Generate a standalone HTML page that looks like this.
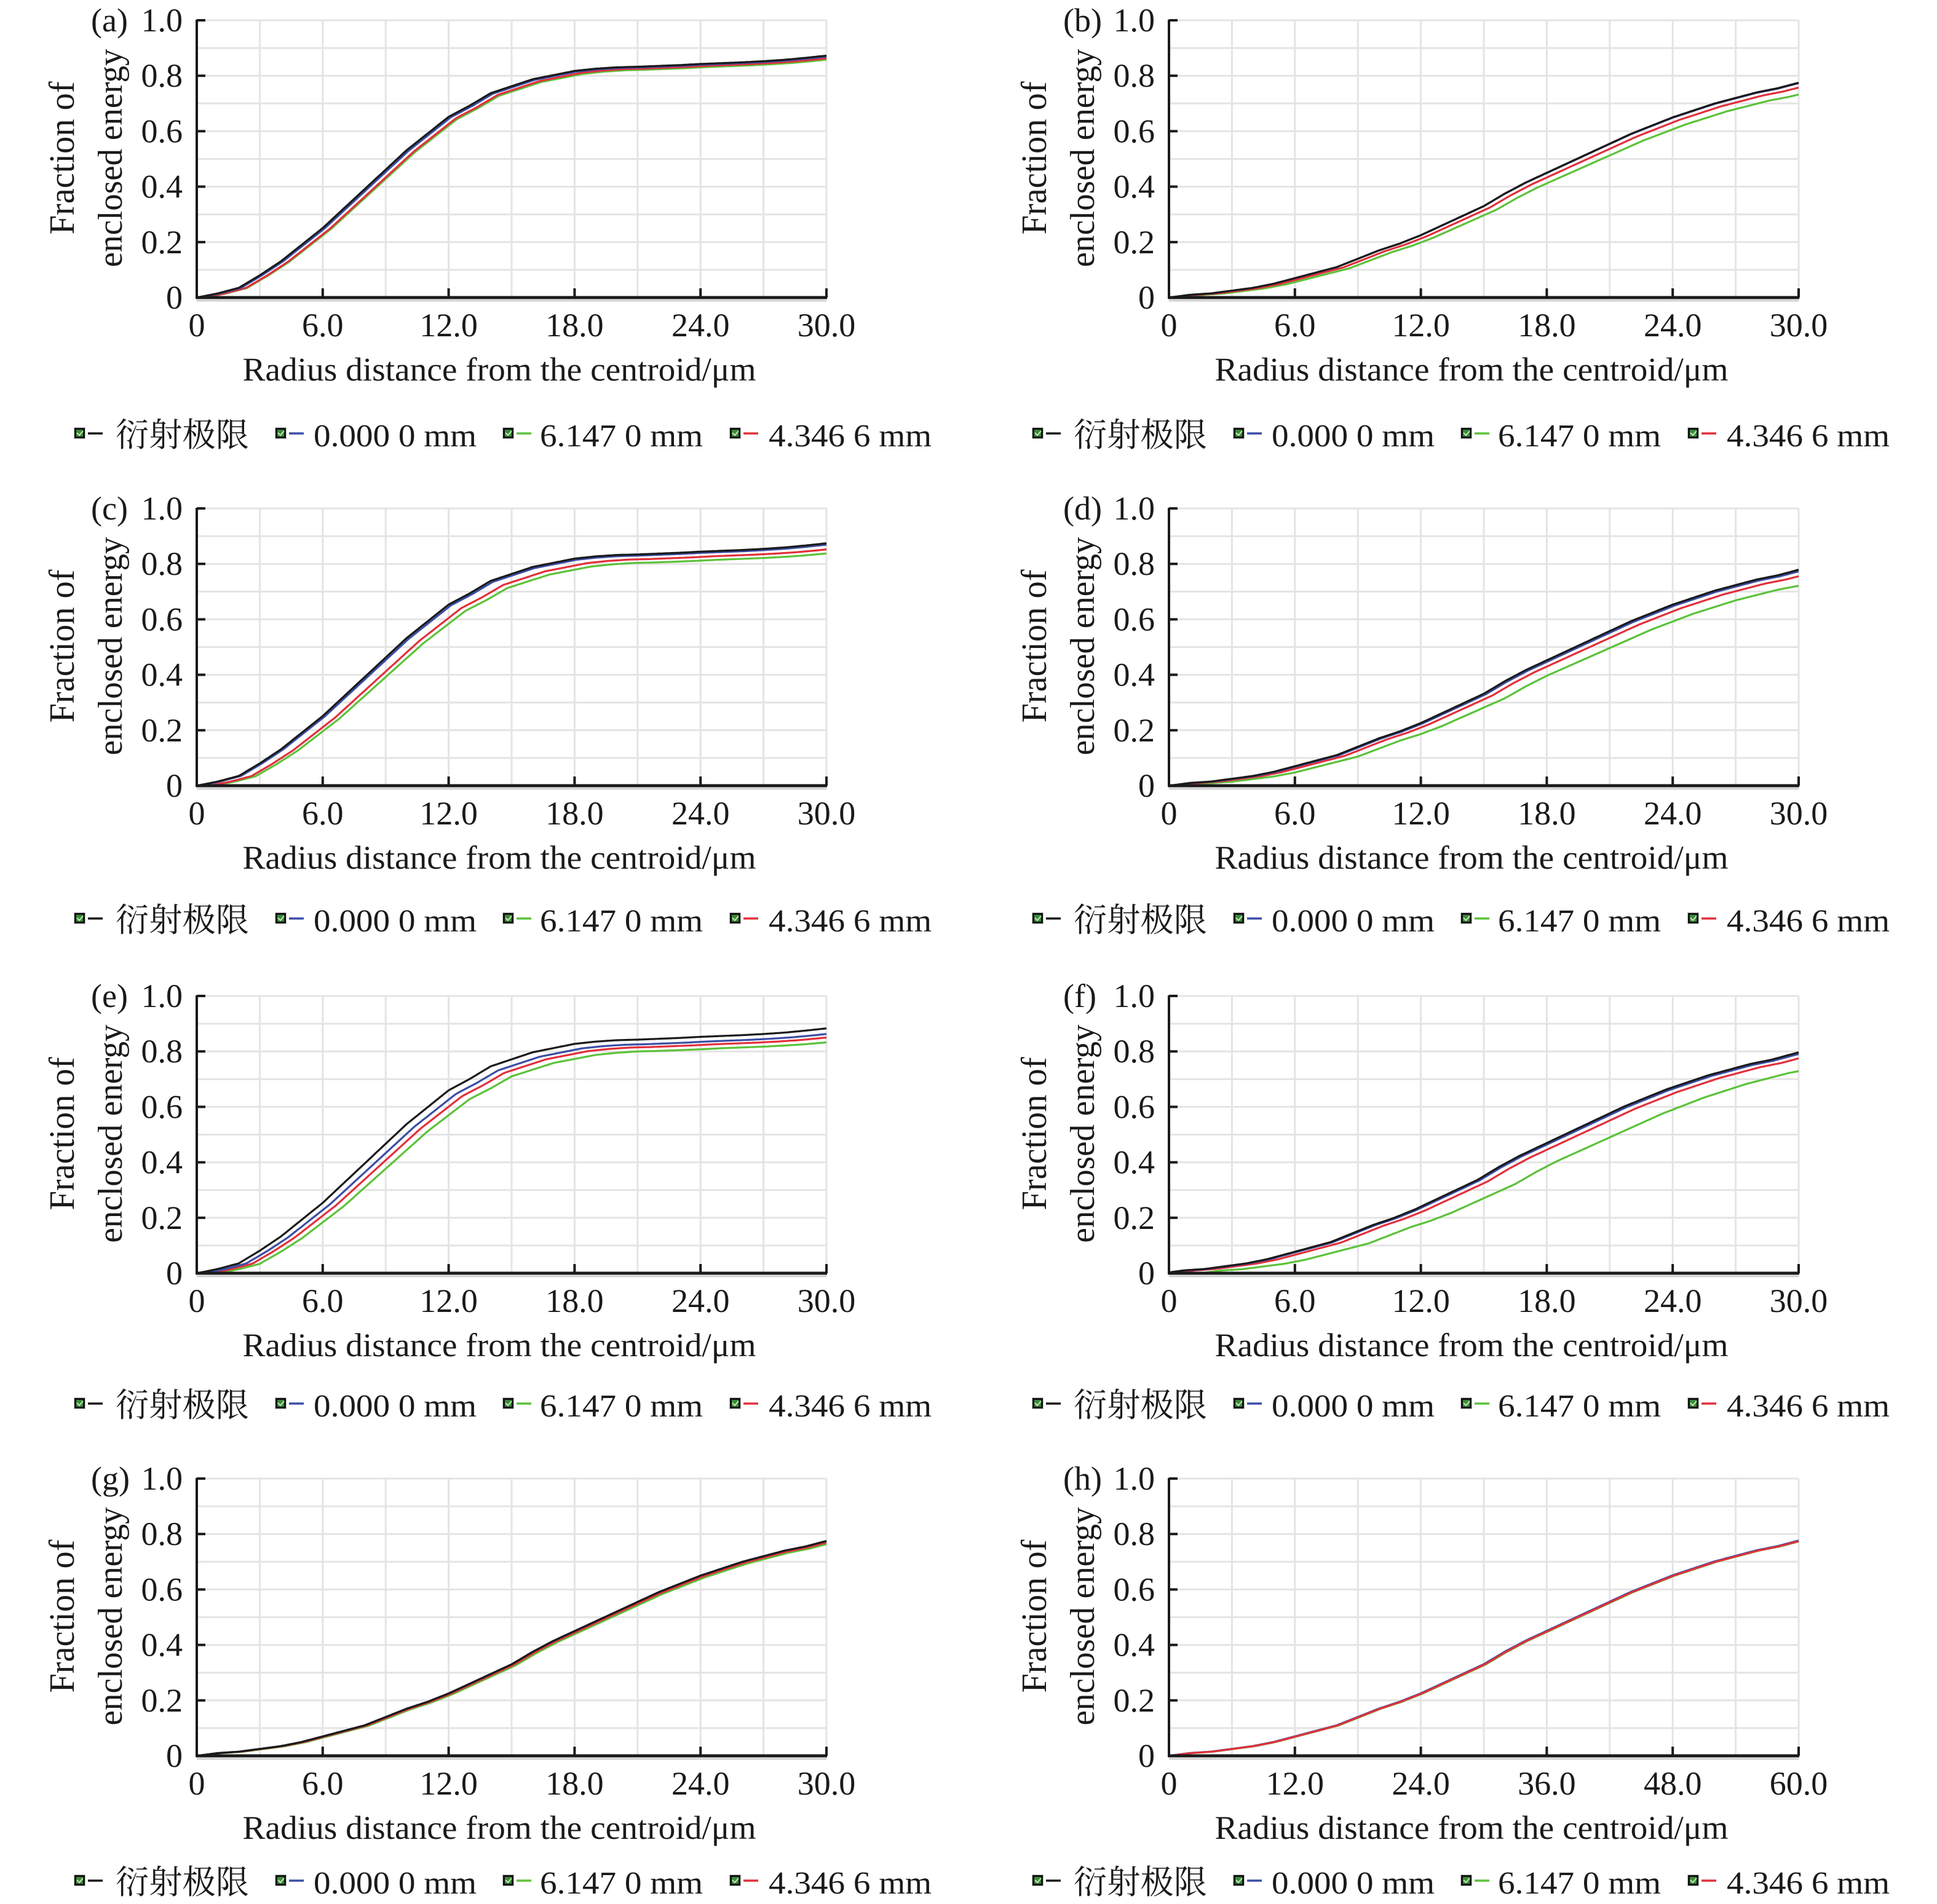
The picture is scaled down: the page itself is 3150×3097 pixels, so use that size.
<!DOCTYPE html>
<html><head><meta charset="utf-8">
<style>
html,body{margin:0;padding:0;background:#fff;}
svg{display:block;}
text{font-family:"Liberation Serif","Noto Serif CJK SC",serif;fill:#1a1a1a;}
</style></head>
<body>
<svg id="s" width="3150" height="3097" viewBox="0 0 3150 3097" xmlns="http://www.w3.org/2000/svg"></svg>
<script>
var NS="http://www.w3.org/2000/svg";
var svg=document.getElementById('s');
function el(t,a,txt){var e=document.createElementNS(NS,t);for(var k in a)e.setAttribute(k,a[k]);if(txt!==undefined)e.textContent=txt;svg.appendChild(e);return e;}
var FAST=[0,0.015,0.035,0.08,0.13,0.19,0.25,0.32,0.39,0.46,0.53,0.59,0.65,0.69,0.735,0.76,0.785,0.80,0.815,0.823,0.828,0.83,0.833,0.836,0.84,0.843,0.846,0.85,0.855,0.862,0.87];
var SLOW=[0,0.01,0.015,0.025,0.035,0.05,0.07,0.09,0.11,0.14,0.17,0.195,0.225,0.26,0.295,0.33,0.375,0.415,0.45,0.485,0.52,0.555,0.59,0.62,0.65,0.675,0.70,0.72,0.74,0.755,0.775];
function interp(tb,x){if(x<=0)return 0;if(x>=30){return tb[30]+(x-30)*(tb[30]-tb[29]);}var i=Math.floor(x),f=x-i;return tb[i]*(1-f)+tb[i+1]*f;}
var COL={k:"#1a1a1a",b:"#3b4ea6",g:"#5cc23a",r:"#e2303c"};
var cols=[0,1581], rows=[33,827,1620,2405], H=451, W=1024;
var legBase=[726,1515,2304,3080];
var panels=[
 ["(a)",0,0,30,FAST,[["g",0.4,0.99],["r",0.35,0.995],["b",0.1,1],["k",0,1.003]]],
 ["(b)",1,0,30,SLOW,[["g",0.6,0.96],["r",0.3,0.985],["b",0,0.998],["k",0,1]]],
 ["(c)",0,1,30,FAST,[["g",0.8,0.97],["r",0.6,0.985],["b",0.1,1],["k",0,1.005]]],
 ["(d)",1,1,30,SLOW,[["g",1.0,0.955],["r",0.4,0.985],["b",0.1,1],["k",0,1.005]]],
 ["(e)",0,2,30,FAST,[["g",1.0,0.966],["r",0.65,0.983],["b",0.35,0.995],["k",0,1.015]]],
 ["(f)",1,2,30,SLOW,[["g",1.5,0.975],["r",0.2,1.005],["b",-0.2,1.015],["k",-0.3,1.02]]],
 ["(g)",0,3,30,SLOW,[["g",0.2,0.99],["r",0.1,0.995],["b",0,1],["k",0,1]]],
 ["(h)",1,3,60,SLOW,[["k",0,1],["b",0,1.002],["g",0.1,1],["r",0.05,1]]]
];
panels.forEach(function(p){
 var X0=320+cols[p[1]], Y0=rows[p[2]], Yb=Y0+H, xmax=p[3];
 for(var i=1;i<=10;i++){var x=X0+W*i/10;el('line',{x1:x,y1:Y0,x2:x,y2:Yb,stroke:"#e4e4e4","stroke-width":3});}
 for(var j=0;j<10;j++){var y=Y0+H*j/10;el('line',{x1:X0,y1:y,x2:X0+W,y2:y,stroke:"#e4e4e4","stroke-width":3});}
 p[5].forEach(function(c){
  var pts=[];
  for(var k=0;k<=300;k++){var xv=xmax*k/300;var bx=(xmax==60?xv/2:xv)-c[1];var v=interp(p[4],bx)*c[2];if(xv==0)v=0;
   pts.push((X0+W*k/300).toFixed(1)+","+(Yb-v*H).toFixed(1));}
  el('polyline',{points:pts.join(" "),fill:"none",stroke:COL[c[0]],"stroke-width":3.2,"stroke-linejoin":"round"});
 });
 el('line',{x1:X0,y1:Yb+5,x2:X0+W,y2:Yb+5,stroke:"#d0d0d0","stroke-width":3});
 el('line',{x1:X0,y1:Y0-1,x2:X0,y2:Yb+2,stroke:"#1a1a1a","stroke-width":4});
 el('line',{x1:X0-1,y1:Yb,x2:X0+W+1,y2:Yb,stroke:"#1a1a1a","stroke-width":5});
 for(var j=0;j<=5;j++){var y=Yb-H*j/5;el('line',{x1:X0,y1:y,x2:X0+14,y2:y,stroke:"#1a1a1a","stroke-width":4});
  el('text',{x:X0-23,y:y+18,"font-size":54,"text-anchor":"end"},j==0?"0":(j/5).toFixed(1));}
 for(var i=0;i<=5;i++){var x=X0+W*i/5;if(i>0)el('line',{x1:x,y1:Yb,x2:x,y2:Yb-15,stroke:"#1a1a1a","stroke-width":4});
  el('text',{x:x,y:Yb+63,"font-size":54,"text-anchor":"middle"},i==0?"0":(xmax*i/5).toFixed(1));}
 el('text',{x:X0-172,y:Y0+18,"font-size":54},p[0]);
 el('text',{x:X0+W/2-20,y:Yb+135,"font-size":54,"text-anchor":"middle",textLength:835,lengthAdjust:"spacingAndGlyphs"},"Radius distance from the centroid/\u03bcm");
 var cx1=X0-200, cy=Y0+224;
 el('text',{x:0,y:0,"font-size":58,"text-anchor":"middle",textLength:249,lengthAdjust:"spacingAndGlyphs",transform:"translate("+cx1+","+cy+") rotate(-90)"},"Fraction of");
 var cx2=X0-122;
 el('text',{x:0,y:0,"font-size":56,"text-anchor":"middle",textLength:355,lengthAdjust:"spacingAndGlyphs",transform:"translate("+cx2+","+cy+") rotate(-90)"},"enclosed energy");
 var off=p[1]?1558:0, bl=legBase[p[2]];
 var items=[[121,"k","\u884d\u5c04\u6781\u9650",188,217],[448,"b","0.000 0 mm",510,265],[818,"g","6.147 0 mm",878,265],[1187,"r","4.346 6 mm",1250,265]];
 items.forEach(function(it){
  var bx=it[0]+off, by=bl-30;
  el('rect',{x:bx-1,y:by-1,width:19,height:19,fill:"#c8c8c8"});
  el('rect',{x:bx+1.5,y:by+1.5,width:14,height:14,fill:"#3a8a3a",stroke:"#111","stroke-width":3});
  el('path',{d:"M"+(bx+4)+" "+(by+8)+" l4 4 l6 -7",fill:"none",stroke:"#bfe8b0","stroke-width":2});
  el('line',{x1:bx+22,y1:by+9,x2:bx+46,y2:by+9,stroke:COL[it[1]],"stroke-width":3.5});
  var a={x:it[3]+off,y:bl,"font-size":it[1]=="k"?54:52,textLength:it[4],lengthAdjust:"spacingAndGlyphs"};
  el('text',a,it[2]);
 });
});
</script>
</body></html>
